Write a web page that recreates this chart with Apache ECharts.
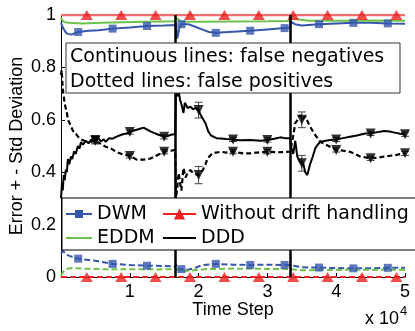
<!DOCTYPE html>
<html><head><meta charset="utf-8">
<script src="https://cdn.jsdelivr.net/npm/echarts@6/dist/echarts.min.js"></script>
<style>html,body{margin:0;padding:0;background:#fff}#c{width:415px;height:331px}</style>
</head><body><div id="c"></div>
<script>
// ---- data ----
const xTicks = [10000, 20000, 30000, 40000, 50000];
const yTicks = [0, 0.2, 0.4, 0.6, 0.8, 1];
const driftPoints = [16667, 33333];

// DWM
const dwmFN = [[0,0.97],[300,0.95],[800,0.93],[1500,0.925],[2500,0.935],[4000,0.94],[5500,0.942],[7500,0.948],[10000,0.952],[12500,0.958],[15000,0.96],[16600,0.962],
  [16700,0.97],[16900,0.91],[17200,0.95],[17500,0.965],[18500,0.965],[19500,0.955],[20500,0.945],[21500,0.935],[22500,0.932],[25000,0.936],[27500,0.94],[30000,0.945],[32500,0.95],[33300,0.952],
  [33400,0.975],[34000,0.965],[35000,0.96],[37500,0.965],[40000,0.968],[42500,0.97],[45000,0.97],[47500,0.968],[50000,0.967]];
const dwmFP = [[0,0.09],[300,0.1],[800,0.085],[1500,0.078],[2500,0.07],[4000,0.065],[5500,0.06],[7500,0.05],[10000,0.046],[12500,0.043],[15000,0.042],[16600,0.04],
  [16700,0.05],[17000,0.03],[17500,0.03],[18500,0.028],[19500,0.035],[20500,0.045],[22500,0.05],[25000,0.047],[27500,0.046],[30000,0.047],[32500,0.046],[33300,0.045],
  [33400,0.04],[35000,0.037],[37500,0.036],[40000,0.034],[42500,0.033],[45000,0.033],[47500,0.035],[50000,0.035]];
const dwmMarkT = [2500,7500,12500,17500,22500,27500,32500,37500,42500,47500];
const dwmFNMark = [0.935,0.948,0.958,0.965,0.932,0.94,0.95,0.965,0.97,0.968];
const dwmFPMark = [0.07,0.05,0.043,0.03,0.05,0.046,0.046,0.036,0.033,0.035];

// Without drift handling
const noDriftFN = [[0,1],[50000,1]];
const noDriftFP = [[0,0],[50000,0]];
const noDriftMarkT = [3750,8750,13750,18750,23750,28750,33750,38750,43750,48750];
const noDriftFNMark = [1,1,1,1,1,1,1,1,1,1];
const noDriftFPMark = [0,0,0,0,0,0,0,0,0,0];

// EDDM
const eddmFN = [[0,0.99],[300,0.975],[1000,0.97],[3000,0.968],[6000,0.97],[9000,0.972],[12000,0.974],[16600,0.976],
  [16700,0.99],[17500,0.975],[20000,0.974],[25000,0.975],[30000,0.976],[33300,0.977],
  [33400,0.99],[34000,0.985],[36000,0.978],[40000,0.978],[45000,0.979],[50000,0.978]];
const eddmFP = [[0,0.005],[300,0.02],[700,0.03],[1500,0.034],[3000,0.032],[6000,0.03],[10000,0.03],[14000,0.029],[16600,0.03],
  [16700,0.03],[17500,0.022],[19000,0.025],[21000,0.03],[25000,0.032],[30000,0.031],[33300,0.03],
  [33400,0.03],[35000,0.026],[40000,0.027],[45000,0.028],[50000,0.028]];

// DDD
const dddFN = [[0,0.30],[150,0.36],[250,0.33],[400,0.39],[550,0.37],[700,0.41],[850,0.40],[1000,0.45],[1200,0.43],[1450,0.46],[1650,0.45],[1900,0.48],[2150,0.47],[2450,0.50],[2700,0.49],[2900,0.515],[3200,0.505],[3600,0.52],[4000,0.51],[4400,0.525],[4800,0.515],[5000,0.523],[5400,0.53],[5800,0.518],[6200,0.525],[6500,0.516],[7000,0.53],[7500,0.528],[8000,0.535],[8500,0.54],[9000,0.545],[9500,0.548],[10000,0.553],[10500,0.558],[11000,0.562],[11600,0.567],[12000,0.57],[12500,0.563],[13000,0.556],[13500,0.55],[14000,0.545],[14500,0.54],[15000,0.535],[15500,0.538],[16000,0.543],[16600,0.546],
  [16700,0.70],[16900,0.69],[17100,0.71],[17300,0.676],[17500,0.66],[17800,0.626],[18000,0.665],[18100,0.67],[18400,0.645],[18800,0.65],[19200,0.64],[19500,0.645],[20000,0.637],[20300,0.618],[20700,0.60],[21000,0.587],[21400,0.556],[21800,0.54],[22000,0.535],[22600,0.53],[23200,0.529],[24000,0.527],[25000,0.525],[26000,0.522],[27500,0.523],[29000,0.52],[30000,0.523],[31000,0.528],[31900,0.533],[32500,0.53],[33300,0.53],
  [33400,0.50],[33760,0.47],[34050,0.52],[34340,0.46],[34780,0.44],[35000,0.434],[35200,0.434],[35500,0.40],[35800,0.389],[36200,0.43],[36600,0.46],[36950,0.491],[37300,0.505],[37700,0.516],[38500,0.52],[39100,0.523],[40000,0.525],[41000,0.53],[42000,0.535],[43000,0.54],[44200,0.548],[45000,0.548],[46000,0.553],[47000,0.557],[47800,0.555],[48500,0.551],[49300,0.547],[50000,0.545]];
const dddFP = [[0,0.77],[100,0.79],[250,0.72],[400,0.69],[550,0.66],[725,0.64],[900,0.62],[1000,0.60],[1200,0.59],[1450,0.575],[1700,0.56],[1900,0.55],[2200,0.545],[2500,0.535],[2900,0.525],[3400,0.52],[4000,0.515],[5000,0.52],[6000,0.505],[6500,0.497],[7300,0.49],[8000,0.478],[9000,0.468],[10000,0.462],[11000,0.448],[12000,0.448],[13000,0.452],[14000,0.465],[15000,0.478],[16000,0.482],[16600,0.485],
  [16700,0.30],[16900,0.34],[17100,0.397],[17300,0.36],[17500,0.33],[17800,0.416],[18100,0.38],[18400,0.397],[18800,0.408],[19300,0.395],[20000,0.389],[20600,0.408],[21000,0.43],[21300,0.453],[22000,0.472],[23200,0.478],[24000,0.475],[25000,0.478],[26500,0.472],[27500,0.472],[29000,0.476],[30000,0.478],[31500,0.476],[33300,0.478],
  [33400,0.48],[33700,0.53],[34050,0.587],[34400,0.60],[34780,0.618],[35000,0.60],[35500,0.612],[36200,0.574],[36950,0.542],[37700,0.516],[38500,0.505],[39100,0.497],[40000,0.485],[41000,0.482],[42000,0.478],[43500,0.46],[45000,0.453],[46000,0.455],[47000,0.46],[48500,0.465],[50000,0.472]];
const dddMarkT = [5000,10000,15000,20000,25000,30000,35000,40000,45000,50000];
const dddFNMark = [0.523,0.553,0.535,0.637,0.525,0.523,0.434,0.525,0.548,0.545];
const dddFPMark = [0.52,0.462,0.478,0.389,0.478,0.478,0.60,0.485,0.453,0.472];
const dddFNStd = [0.014,0.008,0.008,0.03,0.008,0.008,0.03,0.008,0.008,0.008];
const dddFPStd = [0.012,0.008,0.008,0.033,0.008,0.008,0.03,0.008,0.008,0.008];

const boxLines = ['Continuous lines: false negatives', 'Dotted lines: false positives'];
const legendLeft = ['DWM', 'EDDM'];
const legendRight = ['Without drift handling', 'DDD'];

// ---- colours ----
const BLUE = '#3557ab', RED = '#ee2020', RED_LIGHT = '#f26d6d', GREEN = '#6cc24a', BLACK = '#000';

const zip = (t, v) => t.map((x, i) => [x, v[i]]);
const errData = (t, v, s) => t.map((x, i) => [x, v[i] - s[i], v[i] + s[i]]);

function errBar(params, api) {
  const x = api.value(0);
  const lo = api.coord([x, api.value(1)]);
  const hi = api.coord([x, api.value(2)]);
  const w = 4;
  const st = { stroke: '#444', lineWidth: 1 };
  return { type: 'group', children: [
    { type: 'line', shape: { x1: lo[0], y1: lo[1], x2: hi[0], y2: hi[1] }, style: st },
    { type: 'line', shape: { x1: lo[0] - w, y1: lo[1], x2: lo[0] + w, y2: lo[1] }, style: st },
    { type: 'line', shape: { x1: hi[0] - w, y1: hi[1], x2: hi[0] + w, y2: hi[1] }, style: st }
  ]};
}

const chart = echarts.init(document.getElementById('c'), null, { renderer: 'canvas' });
const AX_FONT = 'Liberation Sans';
const LG_FONT = 'DejaVu Sans';
const noSym = { opacity: 0 };

const option = {
  animation: false,
  grid: { left: 61, right: 10, top: 15, bottom: 54, outerBoundsMode: 'none' },
  xAxis: {
    type: 'value', min: 0, max: 50000, interval: 10000,
    name: 'Time Step', nameLocation: 'middle', nameGap: 33, nameMoveOverlap: false,
    nameTextStyle: { fontFamily: AX_FONT, fontSize: 18, color: '#000', verticalAlign: 'middle' },
    axisLine: { show: true, lineStyle: { color: '#000', width: 1 } },
    axisTick: { show: true, inside: true, length: 4, lineStyle: { color: '#000' } },
    axisLabel: { fontFamily: AX_FONT, fontSize: 18, color: '#000', margin: 6,
      formatter: v => (xTicks.indexOf(v) >= 0 ? String(v / 10000) : '') },
    splitLine: { show: false }
  },
  yAxis: {
    type: 'value', min: 0, max: 1, interval: 0.2,
    name: 'Error + - Std Deviation', nameLocation: 'middle', nameGap: 44, nameRotate: 90, nameMoveOverlap: false,
    nameTextStyle: { fontFamily: AX_FONT, fontSize: 18, color: '#000', verticalAlign: 'middle' },
    axisLine: { show: true, lineStyle: { color: '#000', width: 1 } },
    axisTick: { show: true, inside: true, length: 4, lineStyle: { color: '#000' } },
    axisLabel: { fontFamily: AX_FONT, fontSize: 18, color: '#000', margin: 5,
      formatter: v => (yTicks.indexOf(+v.toFixed(1)) >= 0 ? (v === 0 ? '0' : v === 1 ? '1' : v.toFixed(1)) : '') },
    splitLine: { show: false }
  },
  legend: [
    { data: [legendLeft[0], { name: legendLeft[1], itemStyle: noSym }],
      orient: 'vertical', left: 65, top: 203, padding: 0, itemGap: 2, z: 101,
      itemWidth: 26, itemHeight: 10, selectedMode: false,
      textStyle: { fontFamily: LG_FONT, fontSize: 19, color: '#000', lineHeight: 22 } },
    { data: [{ name: legendRight[0], lineStyle: { color: RED, width: 2 } }, { name: legendRight[1], itemStyle: noSym }],
      orient: 'vertical', left: 162, top: 203, padding: 0, itemGap: 2, z: 101,
      itemWidth: 33, itemHeight: 14, selectedMode: false,
      textStyle: { fontFamily: LG_FONT, fontSize: 19, color: '#000', lineHeight: 22 } }
  ],
  graphic: [
    { type: 'rect', z: 100, shape: { x: 62, y: 198, width: 370, height: 52 },
      style: { fill: '#fff', stroke: '#000', lineWidth: 1 } },
    { type: 'rect', z: 100, shape: { x: 66, y: 43, width: 334, height: 50 },
      style: { fill: '#fff', stroke: '#333', lineWidth: 1 } },
    { type: 'text', z: 101, x: 70, y: 57, style: { text: boxLines[0], fontFamily: LG_FONT, fontSize: 19, fill: '#000', verticalAlign: 'middle' } },
    { type: 'text', z: 101, x: 70, y: 82, style: { text: boxLines[1], fontFamily: LG_FONT, fontSize: 19, fill: '#000', verticalAlign: 'middle' } },
    { type: 'text', z: 101, x: 365, y: 319, style: { text: 'x 10', fontFamily: AX_FONT, fontSize: 18, fill: '#000', verticalAlign: 'middle' } },
    { type: 'text', z: 101, x: 400, y: 311, style: { text: '4', fontFamily: AX_FONT, fontSize: 13, fill: '#000', verticalAlign: 'middle' } }
  ],
  series: [
    { name: 'DWM', type: 'line', data: dwmFN, symbol: 'rect', symbolSize: 8, showSymbol: false,
      lineStyle: { color: BLUE, width: 2 }, itemStyle: { color: BLUE }, z: 3 },
    { name: 'Without drift handling', type: 'line', data: noDriftFN, symbol: 'triangle', symbolSize: [12, 10], showSymbol: false,
      lineStyle: { color: RED_LIGHT, width: 2.5 }, itemStyle: { color: RED }, z: 3 },
    { name: 'EDDM', type: 'line', data: eddmFN, symbol: 'none',
      lineStyle: { color: GREEN, width: 2 }, itemStyle: { color: GREEN }, z: 3 },
    { name: 'DDD', type: 'line', data: dddFN, symbol: 'none',
      lineStyle: { color: BLACK, width: 2 }, itemStyle: { color: BLACK }, z: 3,
      markLine: { silent: true, symbol: 'none', label: { show: false },
        lineStyle: { color: '#000', width: 2.5, type: 'solid' },
        data: driftPoints.map(d => ({ xAxis: d })) } },
    { name: 'DWM', type: 'line', data: dwmFP, symbol: 'none',
      lineStyle: { color: BLUE, width: 2, type: [6, 3] }, z: 3 },
    { name: 'Without drift handling', type: 'line', data: noDriftFP, symbol: 'none',
      lineStyle: { color: RED, width: 2, type: [6, 3] }, z: 3 },
    { name: 'EDDM', type: 'line', data: eddmFP, symbol: 'none',
      lineStyle: { color: GREEN, width: 2, type: [6, 3] }, z: 3 },
    { name: 'DDD', type: 'line', data: dddFP, symbol: 'none',
      lineStyle: { color: BLACK, width: 2.2, type: [5, 3] }, z: 3 },
    { type: 'custom', renderItem: errBar, data: errData(dddMarkT, dddFNMark, dddFNStd), z: 3, silent: true },
    { type: 'custom', renderItem: errBar, data: errData(dddMarkT, dddFPMark, dddFPStd), z: 3, silent: true },
    { name: 'DWM', type: 'scatter', data: zip(dwmMarkT, dwmFNMark), symbol: 'rect', symbolSize: 8, itemStyle: { color: BLUE }, z: 4 },
    { name: 'DWM', type: 'scatter', data: zip(dwmMarkT, dwmFPMark), symbol: 'rect', symbolSize: 8, itemStyle: { color: BLUE }, z: 4 },
    { name: 'Without drift handling', type: 'scatter', data: zip(noDriftMarkT, noDriftFNMark), symbol: 'triangle', symbolSize: [12, 10], itemStyle: { color: RED }, z: 4 },
    { name: 'Without drift handling', type: 'scatter', data: zip(noDriftMarkT, noDriftFPMark), symbol: 'triangle', symbolSize: [12, 10], itemStyle: { color: RED }, z: 4 },
    { name: 'DDD', type: 'scatter', data: zip(dddMarkT, dddFNMark), symbol: 'triangle', symbolRotate: 180, symbolSize: [10, 10], itemStyle: { color: BLACK }, z: 4 },
    { name: 'DDD', type: 'scatter', data: zip(dddMarkT, dddFPMark), symbol: 'triangle', symbolRotate: 180, symbolSize: [10, 10], itemStyle: { color: BLACK }, z: 4 }
  ]
};
chart.setOption(option);
</script>
</body></html>
